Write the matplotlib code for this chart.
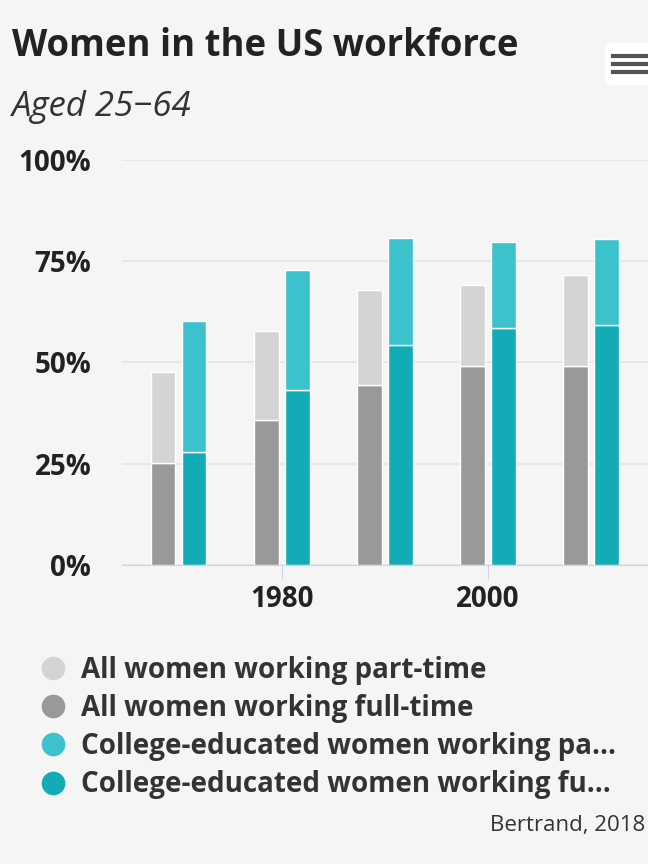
import matplotlib.pyplot as plt
from matplotlib.lines import Line2D
from matplotlib.patches import FancyBboxPatch

plt.rcParams['font.family'] = ['Open Sans', 'DejaVu Sans']

# data (percent of women aged 25-64)
years = [1970, 1980, 1990, 2000, 2010]
all_full = [25.1, 35.9, 44.5, 49.1, 49.1]
all_part = [22.5, 21.8, 23.5, 20.0, 22.4]
college_full = [27.8, 43.1, 54.2, 58.4, 59.3]
college_part = [32.5, 29.6, 26.6, 21.4, 21.1]

labels = ["All women working part-time",
          "All women working full-time",
          "College-educated women working pa...",
          "College-educated women working fu..."]
colors = ["#d4d4d4", "#999999", "#3cc2cd", "#13abb6"]
bg = "#f5f5f5"

fig = plt.figure(figsize=(6.48, 8.64), dpi=100, facecolor=bg)
ax = fig.add_axes([0.188, 0.346, 0.812, 0.469], facecolor=bg)

w = 2.4
xg = [y - 1.5 for y in years]
xc = [y + 1.5 for y in years]
ax.bar(xg, all_full, w, color=colors[1], edgecolor="white", linewidth=1, zorder=3)
ax.bar(xg, all_part, w, bottom=all_full, color=colors[0], edgecolor="white", linewidth=1, zorder=3)
ax.bar(xc, college_full, w, color=colors[3], edgecolor="white", linewidth=1, zorder=3)
ax.bar(xc, college_part, w, bottom=college_full, color=colors[2], edgecolor="white", linewidth=1, zorder=3)

ax.set_xlim(1964.5, 2015.5)
ax.set_ylim(0, 100)
ax.set_yticks([0, 25, 50, 75, 100])
ax.set_yticklabels(["0%", "25%", "50%", "75%", "100%"])
ax.set_xticks([1980, 2000])
ax.set_xticklabels(["1980", "2000"])
ax.grid(axis="y", color="#e4e4e4", linewidth=1.2, zorder=0)
for s in ["top", "right", "left"]:
    ax.spines[s].set_visible(False)
ax.spines["bottom"].set_color("#ccd6eb")
ax.spines["bottom"].set_zorder(4)
ax.tick_params(axis="y", length=0, pad=22, labelsize=20, labelcolor="#222222")
ax.tick_params(axis="x", length=10, color="#ccd6eb", pad=4, labelsize=20, labelcolor="#222222")
for t in ax.get_yticklabels() + ax.get_xticklabels():
    t.set_fontweight("bold")

fig.text(0.019, 0.947, "Women in the US workforce", fontsize=26.3, fontweight="bold",
         color="#222222", va="center")
fig.text(0.019, 0.876, "Aged 25\u221264", fontsize=25, style="italic",
         color="#333333", va="center")

# menu button
btn = FancyBboxPatch((605 / 648, 1 - 85 / 864), 50 / 648, 42 / 864,
                     boxstyle="round,pad=0,rounding_size=0.01",
                     transform=fig.transFigure, facecolor="white", edgecolor="none")
fig.patches.append(btn)
for yy in [56, 64, 72]:
    fig.add_artist(Line2D([613 / 648, 646 / 648], [1 - yy / 864] * 2,
                          transform=fig.transFigure, color="#555555", linewidth=3))

handles = [Line2D([], [], marker="o", linestyle="none", markersize=17,
                  markerfacecolor=c, markeredgecolor="none") for c in colors]
leg = fig.legend(handles, labels, loc="upper left", bbox_to_anchor=(0.041, 0.257),
                 frameon=False, fontsize=20, handletextpad=0.55, labelspacing=0.33,
                 borderpad=0, handlelength=0.9)
for t in leg.get_texts():
    t.set_fontweight("bold")
    t.set_color("#333333")

fig.text(0.995, 0.044, "Bertrand, 2018", fontsize=16, color="#333333",
         ha="right", va="center")

fig.savefig("out.png", dpi=100, facecolor=bg)
